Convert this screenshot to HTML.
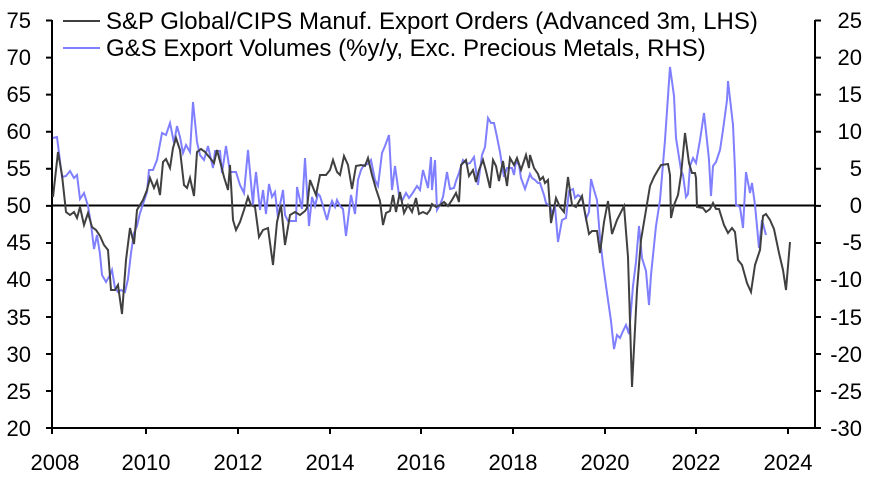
<!DOCTYPE html>
<html><head><style>body{margin:0;background:#fff}svg{display:block}text{font-family:"Liberation Sans",Arial,sans-serif}</style></head><body>
<svg width="876" height="488" xmlns="http://www.w3.org/2000/svg">
<g font-size="22" fill="#000">
<g text-anchor="end">
<text x="31" y="28">75</text><text x="31" y="65">70</text><text x="31" y="102">65</text><text x="31" y="139">60</text><text x="31" y="176">55</text><text x="31" y="213">50</text><text x="31" y="250">45</text><text x="31" y="287">40</text><text x="31" y="325">35</text><text x="31" y="362">30</text><text x="31" y="399">25</text><text x="31" y="436">20</text>
</g>
<g text-anchor="end">
<text x="862" y="28">25</text><text x="862" y="65">20</text><text x="862" y="102">15</text><text x="862" y="139">10</text><text x="862" y="176">5</text><text x="862" y="213">0</text><text x="862" y="250">-5</text><text x="862" y="287">-10</text><text x="862" y="325">-15</text><text x="862" y="362">-20</text><text x="862" y="399">-25</text><text x="862" y="436">-30</text>
</g>
<g text-anchor="middle">
<text x="55" y="470">2008</text><text x="146" y="470">2010</text><text x="238" y="470">2012</text><text x="330" y="470">2014</text><text x="421" y="470">2016</text><text x="513" y="470">2018</text><text x="605" y="470">2020</text><text x="696" y="470">2022</text><text x="788" y="470">2024</text>
</g>
</g>
<g stroke="#000" stroke-width="2">
<line x1="52" y1="20" x2="52" y2="429"/>
<line x1="815" y1="20" x2="815" y2="429"/>
<line x1="52" y1="428" x2="815" y2="428"/>
<line x1="52" y1="205.5" x2="815" y2="205.5"/>
<path d="M46 20.5h6M46 57.6h6M46 94.6h6M46 131.7h6M46 168.8h6M46 205.9h6M46 243h6M46 280h6M46 317h6M46 354h6M46 391h6M46 428h6"/>
<path d="M815 20.5h6M815 57.6h6M815 94.6h6M815 131.7h6M815 168.8h6M815 205.9h6M815 243h6M815 280h6M815 317h6M815 354h6M815 391h6M815 428h6"/>
<path d="M52 428v6M146 428v6M238 428v6M330 428v6M421 428v6M513 428v6M605 428v6M696 428v6M788 428v6"/>
</g>
<polyline fill="none" stroke="#7f7fff" stroke-width="2" points="53,138 57,137 62,177 66,176 70,171 74,178 77,175 80,199 84,193 88,206 91,224 94,249 97,235 100,254 102,275 106,282 110,275 112,270 115,288 118,292 121,290 125,292 128,279 131,253 134,233 137,226 140,213 147,192 149,170 153,170 157,160 162,133 166,135 170,123 174,143 177,126 180,137 183,153 186,145 190,152 193,102 197,142 200,155 204,160 208,146 210,155 213,168 215,151 220,151 222,173 226,146 230,172 234,172 236,172 240,185 244,193 248,150 253,205 254,190 256,172 260,210 263,190 266,214 269,184 272,197 275,192 278,218 280,205 283,190 285,215 288,221 290,221 296,221 297,187 302,209 305,158 309,226 312,197 315,206 318,194 320,196 323,206 327,220 330,207 332,201 335,207 337,200 340,206 343,209 346,236 351,195 355,214 358,180 361,170 364,165 368,164 371,160 375,180 378,186 382,153 385,146 389,135 392,190 395,166 399,195 402,201 406,193 409,198 412,194 417,186 420,190 423,170 428,188 431,157 432,190 435,160 437,210 440,205 443,197 447,172 450,189 454,188 456,181 459,173 463,160 467,164 470,163 474,157 478,185 482,155 485,147 488,118 491,123 494,123 497,137 500,152 502,165 504,177 507,168 510,168 512,168 514,175 516,161 519,165 521,178 525,189 530,174 532,178 535,180 538,183 540,183 544,195 546,203 550,206 552,213 555,207 558,242 562,220 566,218 569,191 573,189 575,198 578,195 581,197 583,202 586,219 589,212 591,179 594,190 597,200 600,238 603,264 607,293 611,321 614,349 617,335 620,338 623,331 626,325 629,334 633,286 636,262 639,226 642,258 646,271 649,305 651,275 656,226 660,200 665,140 670,67 674,96 676,138 681,170 683,175 686,197 688,194 690,166 693,158 696,163 700,140 704,113 708,150 709,160 711,196 713,166 716,162 720,150 723,130 727,100 728,81 733,125 735,170 736,205 740,207 743,228 746,172 750,193 752,183 755,205 759,248 762,220 766,235"/>
<polyline fill="none" stroke="#404040" stroke-width="2" points="53,197 58,152 62,175 66,212 70,215 74,212 77,218 80,207 84,225 88,213 92,227 96,230 100,236 104,245 108,250 111,290 115,290 118,285 122,314 126,260 130,228 134,244 137,210 143,200 147,190 150,178 154,188 157,181 160,195 163,162 166,159 170,168 173,148 176,138 180,150 184,185 187,188 190,178 194,196 197,152 201,149 205,152 210,158 214,163 217,150 221,165 224,177 228,190 230,165 233,220 236,230 240,222 244,210 248,197 251,205 255,207 259,237 263,230 268,228 273,265 277,222 281,205 285,245 290,215 295,212 300,215 305,211 307,208 310,180 316,195 320,175 326,175 330,170 333,160 337,172 340,175 344,156 348,165 352,189 356,166 361,165 365,166 368,158 372,175 376,189 380,201 383,225 386,213 390,211 393,195 396,212 400,192 404,213 408,205 412,212 416,198 419,214 423,212 427,214 430,210 432,204 436,207 440,205 444,202 448,206 452,200 456,193 459,202 461,165 466,160 469,176 473,170 476,182 479,170 483,160 486,171 490,188 493,160 496,166 499,181 503,161 507,186 510,158 514,165 517,158 521,170 526,155 529,168 530,155 534,168 538,174 540,180 543,177 545,183 548,180 551,223 556,198 560,207 564,212 568,177 572,205 576,207 582,196 585,213 589,234 592,231 597,231 600,253 604,222 608,201 612,234 617,220 624,206 628,257 632,387 637,290 641,240 646,210 650,186 654,177 658,170 661,165 668,164 670,175 671,218 674,205 678,195 681,175 685,133 689,163 692,173 695,173 696,178 697,207 703,208 706,212 710,209 713,203 716,209 719,209 724,225 728,233 732,228 735,232 738,260 742,265 747,283 751,292 755,265 760,250 763,216 766,214 770,220 774,229 779,253 783,270 786,290 790,242"/>
<line x1="63" y1="21" x2="100" y2="21" stroke="#404040" stroke-width="2"/>
<line x1="63" y1="48" x2="100" y2="48" stroke="#7f7fff" stroke-width="2"/>
<g font-size="24" fill="#000">
<text x="106" y="29">S&amp;P Global/CIPS Manuf. Export Orders (Advanced 3m, LHS)</text>
<text x="106" y="56">G&amp;S Export Volumes (%y/y, Exc. Precious Metals, RHS)</text>
</g>
</svg>
</body></html>
